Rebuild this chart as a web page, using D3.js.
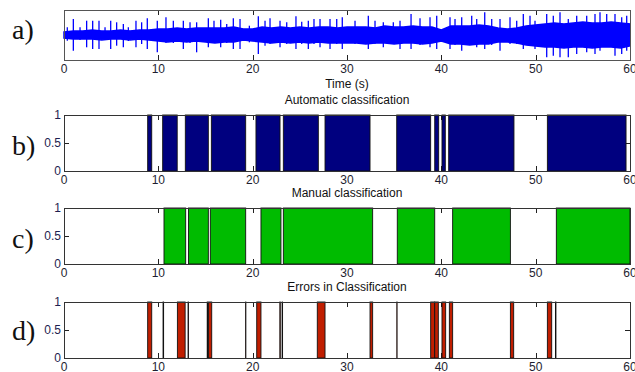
<!DOCTYPE html>
<html>
<head>
<meta charset="utf-8">
<script src="https://cdn.jsdelivr.net/npm/d3@7"></script>
<style>
  body { margin: 0; background: #fff; }
  svg { display: block; font-family: "Liberation Sans", Arial, sans-serif; }
</style>
</head>
<body>
<div id="chart"></div>
<script>
// tick labels and captions
const timeTicks = [0, 10, 20, 30, 40, 50, 60];
const levelTicks = [0, 0.5, 1];
const panelLetters = ['a)', 'b)', 'c)', 'd)'];
const panelTitles = ['Automatic classification', 'Manual classification', 'Errors in Classification'];

// classification segments [start s, end s]
const autoSegments = [[8.87, 9.3], [10.46, 12.0], [12.86, 15.3], [15.62, 19.26], [20.35, 22.9], [23.25, 26.96],
  [27.67, 32.44], [35.27, 38.87], [39.3, 39.72], [40.07, 40.42], [40.78, 47.7], [51.24, 59.58]];
const manualSegments = [[10.6, 12.9], [13.2, 15.3], [15.51, 19.26], [20.88, 23.0], [23.25, 32.72],
  [35.33, 39.3], [41.2, 47.32], [52.19, 60]];
const errorSegments = [[8.87, 9.3], [10.5, 10.56], [12.02, 12.84], [13.15, 13.2], [15.18, 15.22], [15.32, 15.66],
  [19.25, 19.28], [20.43, 20.88], [22.88, 22.93], [23.12, 23.17], [26.85, 27.67], [32.44, 32.72], [35.28, 35.31],
  [38.87, 39.3], [39.3, 39.68], [40.07, 40.46], [40.85, 41.2], [47.32, 47.67], [51.24, 51.7], [52.1, 52.15]];

// signal trace: dense band envelope per second (0..60 s) and the tall spikes
const envSeconds = d3.range(0, 61);
const envUpper = [3, 4, 4, 5, 4, 4, 5, 4, 5, 5, 6, 6, 7, 6, 7, 7, 7, 7, 8, 6, 6, 8, 7, 8, 7, 8, 7, 8, 8, 7,
  8, 8, 8, 7, 9, 8, 8, 9, 8, 8, 5, 9, 9, 9, 10, 9, 7, 6, 7, 9, 10, 11, 12, 11, 12, 13, 12, 12, 13, 12, 11];
const envLower = [-3, -4, -4, -4, -5, -4, -4, -5, -4, -5, -6, -7, -6, -7, -6, -7, -8, -7, -7, -5, -6, -7, -8, -7, -8, -7, -8, -7, -8, -8,
  -8, -8, -9, -8, -8, -9, -8, -8, -9, -8, -6, -9, -9, -10, -9, -9, -7, -7, -8, -10, -11, -12, -12, -13, -12, -12, -13, -12, -12, -13, -11];
const spikeTime = [0.35, 0.99, 1.7, 2.4, 3.04, 3.71, 4.35, 4.95, 5.58, 6.29, 6.82, 7.63, 8.23, 8.83, 9.89,
  10.81, 11.59, 12.65, 13.36, 14.06, 15.3, 15.9, 16.61, 17.25, 17.95, 18.66, 19.65, 20.6, 21.31, 21.84,
  22.9, 23.61, 24.59, 25.2, 25.9, 26.5, 27.14, 28.2, 28.91, 29.5, 30.85, 32.26, 32.97, 33.85, 34.91,
  35.62, 36.79, 37.74, 38.8, 39.51, 40.92, 41.45, 42.16, 43.22, 43.75, 44.6, 45.34, 46.22, 47.28, 47.99,
  48.69, 49.4, 49.93, 51.17, 51.87, 52.58, 53.46, 54.35, 55.41, 56.29, 56.82, 57.53, 58.41, 59.12, 59.65];
const spikeTop = [7.7, 16, 7.7, 14.3, 14.3, 14.3, 7.7, 14.3, 12.7, 11, 7.7, 14.3, 12.7, 16.7, 14.3,
  17.7, 14.3, 14.3, 12.7, 12.7, 16.7, 14.3, 15.3, 11, 16.7, 16, 9.3, 18.7, 14.3, 16.7,
  14.3, 12.7, 18.7, 13.3, 14.3, 16, 16, 16, 16, 17.7, 14.3, 19.3, 14.3, 12.7, 12.7,
  14.3, 21, 16.7, 17.7, 19.3, 17.7, 16, 17.7, 19.3, 16, 22.7, 16, 16, 17.7, 14.3,
  21, 19.3, 14.3, 21, 19.3, 22.7, 16, 19.3, 19.3, 21, 22.7, 21, 21, 17.7, 19.3];
const spikeBottom = [-5.7, -15.7, -5, -12.3, -14, -14, -5, -14, -10.7, -12.3, -6, -12.3, -9, -14, -17.3,
  -8, -8, -14, -8, -17.3, -12.3, -8, -12.3, -8, -14, -14, -7.3, -19, -10.7, -9,
  -12.3, -9, -14, -9, -14, -9, -12.3, -14, -9, -14, -9, -14, -9, -12.3, -9,
  -14, -14, -10, -12.3, -14, -14, -10, -15.7, -10, -12.3, -14, -10, -15.7, -9, -9,
  -14, -11, -14, -22.3, -20.7, -22.3, -22.3, -19, -17.3, -19, -15.7, -12, -20.7, -19, -15.7];

const W = 635, H = 372;
const svg = d3.select('#chart').append('svg').attr('width', W).attr('height', H);

const x = d3.scaleLinear().domain([0, 60]).range([64, 630]);
const tickLen = 5;
const fs = 12;

function xTicks(g, top, bottom) {
  // inward ticks on top and bottom edges
  [[bottom, bottom - tickLen], [top, top + tickLen]].forEach(([a, b]) => {
    g.append('g').selectAll('line').data(timeTicks).join('line')
      .attr('x1', d => Math.round(x(d)) + 0.5).attr('x2', d => Math.round(x(d)) + 0.5)
      .attr('y1', a).attr('y2', b).attr('stroke', '#222');
  });
}

function xLabels(g, bottom) {
  g.append('g').selectAll('text').data(timeTicks).join('text')
    .attr('x', d => x(d)).attr('y', bottom + 13).attr('text-anchor', 'middle')
    .attr('font-size', fs).attr('fill', '#1e1e30').text(d => d);
}

// ---- panel a: signal
{
  const top = 10, bottom = 60;
  const y = d3.scaleLinear().domain([-25, 25]).range([bottom, top]);
  const g = svg.append('g');
  xTicks(g, top, bottom);

  const band = envSeconds.map((t, i) => ({ t, up: envUpper[i], lo: envLower[i] }));
  g.append('path').datum(band)
    .attr('d', d3.area().x(d => x(d.t)).y0(d => y(d.lo)).y1(d => y(d.up)))
    .attr('fill', '#0000ff').attr('stroke', '#0000ff').attr('stroke-width', 1.5);
  g.append('g').selectAll('line').data(spikeTime).join('line')
    .attr('x1', d => x(d)).attr('x2', d => x(d))
    .attr('y1', (d, i) => y(spikeTop[i])).attr('y2', (d, i) => y(spikeBottom[i]))
    .attr('stroke', '#0000ff').attr('stroke-width', 1.3);

  g.append('rect').attr('x', x(0) + 0.5).attr('y', top + 0.5)
    .attr('width', x(60) - x(0)).attr('height', bottom - top)
    .attr('fill', 'none').attr('stroke', '#555');
  xLabels(g, bottom);
  g.append('text').attr('x', (x(0) + x(60)) / 2).attr('y', 88).attr('text-anchor', 'middle')
    .attr('font-size', fs).attr('fill', '#111').text('Time (s)');
}

// ---- panels b, c, d: classification bars
const barPanels = [
  { top: 115, bottom: 171, segs: autoSegments, color: '#00007f', title: panelTitles[0] },
  { top: 208, bottom: 264, segs: manualSegments, color: '#00bb00', title: panelTitles[1] },
  { top: 302, bottom: 358, segs: errorSegments, color: '#c01e00', title: panelTitles[2] },
];

barPanels.forEach(p => {
  const y = d3.scaleLinear().domain([0, 1]).range([p.bottom, p.top]);
  const g = svg.append('g');
  xTicks(g, p.top, p.bottom);

  // y ticks, inward on both sides
  [[x(0), x(0) + tickLen], [x(60), x(60) - tickLen]].forEach(([a, b]) => {
    g.append('g').selectAll('line').data(levelTicks).join('line')
      .attr('x1', a).attr('x2', b)
      .attr('y1', d => Math.round(y(d)) + 0.5).attr('y2', d => Math.round(y(d)) + 0.5).attr('stroke', '#222');
  });

  g.append('g').selectAll('rect').data(p.segs).join('rect')
    .attr('x', d => x(d[0])).attr('y', y(1))
    .attr('width', d => x(d[1]) - x(d[0])).attr('height', y(0) - y(1))
    .attr('fill', p.color).attr('stroke', '#111').attr('stroke-width', 0.9);

  g.append('rect').attr('x', x(0) + 0.5).attr('y', p.top + 0.5)
    .attr('width', x(60) - x(0)).attr('height', p.bottom - p.top)
    .attr('fill', 'none').attr('stroke', '#333');

  g.append('g').selectAll('text').data(levelTicks).join('text')
    .attr('x', x(0) - 3).attr('y', d => y(d)).attr('dy', '0.35em').attr('text-anchor', 'end')
    .attr('font-size', fs).attr('fill', '#1e1e50').text(d => d);
  xLabels(g, p.bottom);

  g.append('text').attr('x', (x(0) + x(60)) / 2).attr('y', p.top - 11).attr('text-anchor', 'middle')
    .attr('font-size', fs).attr('fill', '#111').text(p.title);
});

// panel letters
const letterY = [39, 155, 248, 340];
svg.append('g').selectAll('text').data(panelLetters).join('text')
  .attr('x', 12).attr('y', (d, i) => letterY[i])
  .attr('font-family', '"Liberation Serif", "Times New Roman", serif')
  .attr('font-size', 28).attr('fill', '#111').text(d => d);
</script>
</body>
</html>
